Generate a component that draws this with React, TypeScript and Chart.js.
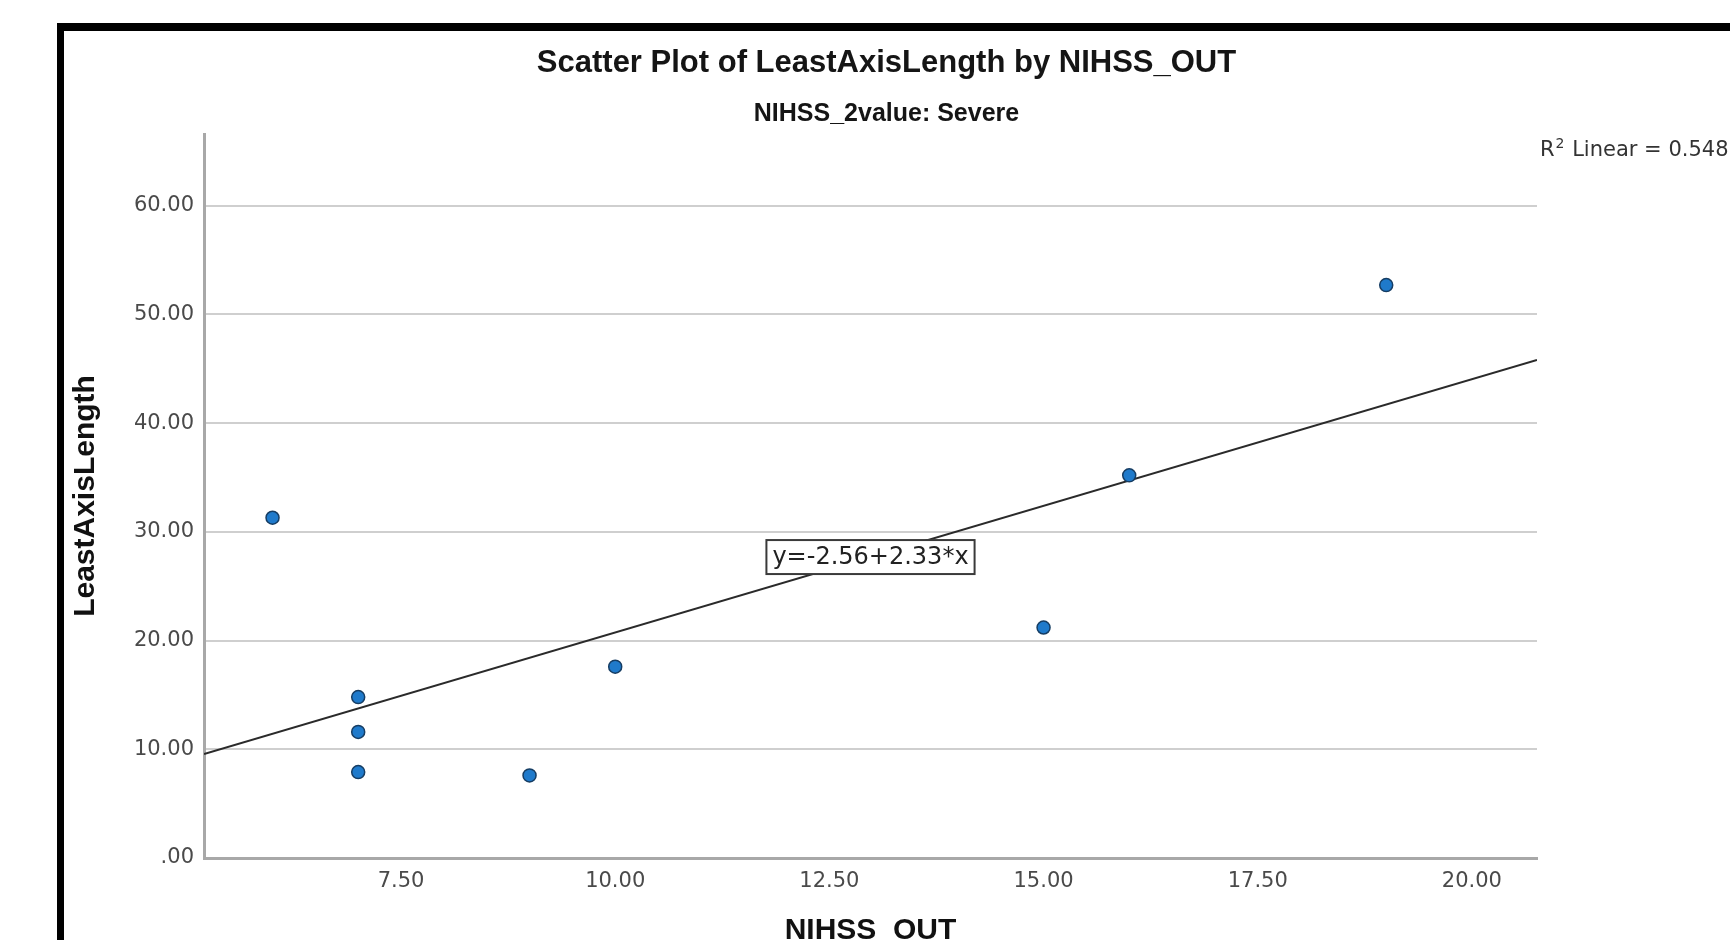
import React, { useEffect, useRef } from "react";
import { Chart, registerables } from "chart.js";

Chart.register(...registerables);

// ---- data ----
const NIHSS_OUT = [6, 7, 7, 7, 9, 10, 15, 16, 19];
const LEAST_AXIS_LENGTH = [31.3, 14.8, 11.6, 7.9, 7.6, 17.6, 21.2, 35.2, 52.7];
const X_TICKS = [7.5, 10, 12.5, 15, 17.5, 20];
const Y_TICKS = [0, 10, 20, 30, 40, 50, 60];
const X_RANGE = [5.2, 20.76];
const Y_RANGE = [0, 66.6];
const FIT_INTERCEPT = -2.56;
const FIT_SLOPE = 2.33;
const R_SQUARED = 0.548;
const TITLE = "Scatter Plot of LeastAxisLength by NIHSS_OUT";
const SUBTITLE = "NIHSS_2value: Severe";
const X_TITLE = "NIHSS_OUT";
const Y_TITLE = "LeastAxisLength";

const fmtTick = (v: number) => (v === 0 ? ".00" : v.toFixed(2));

const spssTextPlugin = {
  id: "spssText",
  afterDraw(chart: any) {
    const { ctx, chartArea, scales } = chart;
    const cx = (chartArea.left + chartArea.right) / 2;
    ctx.save();
    ctx.fillStyle = "#151515";
    ctx.textAlign = "center";
    ctx.textBaseline = "middle";
    ctx.font = "bold 31px 'Liberation Sans', Arial, sans-serif";
    ctx.fillText(TITLE, cx + 16, chartArea.top - 71);
    ctx.font = "bold 25px 'Liberation Sans', Arial, sans-serif";
    ctx.fillText(SUBTITLE, cx + 16, chartArea.top - 20);

    // R² annotation with a raised, smaller "2"
    ctx.textAlign = "left";
    ctx.fillStyle = "#333333";
    const rx = chartArea.right + 3;
    const ry = chartArea.top + 17;
    ctx.font = "21px 'DejaVu Sans', sans-serif";
    ctx.fillText("R", rx, ry);
    const rW = ctx.measureText("R").width;
    ctx.font = "14px 'DejaVu Sans', sans-serif";
    ctx.fillText("2", rx + rW + 1, ry - 7);
    const sW = ctx.measureText("2").width;
    ctx.font = "21px 'DejaVu Sans', sans-serif";
    ctx.fillText(` Linear = ${R_SQUARED.toFixed(3)}`, rx + rW + sW + 2, ry);

    // equation label box on the fit line
    const midX = (X_RANGE[0] + X_RANGE[1]) / 2;
    const px = scales.x.getPixelForValue(midX);
    const py = scales.y.getPixelForValue(FIT_INTERCEPT + FIT_SLOPE * midX);
    const label = `y=${FIT_INTERCEPT.toFixed(2)}+${FIT_SLOPE.toFixed(2)}*x`;
    ctx.font = "24px 'DejaVu Sans', sans-serif";
    const w = ctx.measureText(label).width + 12;
    const h = 34;
    ctx.fillStyle = "#ffffff";
    ctx.fillRect(px - w / 2, py - h / 2, w, h);
    ctx.strokeStyle = "#3a3a3a";
    ctx.lineWidth = 2;
    ctx.strokeRect(px - w / 2, py - h / 2, w, h);
    ctx.fillStyle = "#222222";
    ctx.textAlign = "center";
    ctx.fillText(label, px, py + 1);
    ctx.restore();
  },
};

export default function App() {
  const canvasRef = useRef<HTMLCanvasElement | null>(null);

  useEffect(() => {
    if (!canvasRef.current) return;
    const points = NIHSS_OUT.map((x, i) => ({ x, y: LEAST_AXIS_LENGTH[i] }));
    const fit = X_RANGE.map((x) => ({ x, y: FIT_INTERCEPT + FIT_SLOPE * x }));
    const tickFont = { family: "'DejaVu Sans', sans-serif", size: 21 };
    const titleFont = { family: "'Liberation Sans', Arial, sans-serif", size: 30, weight: "bold" as const };

    const chart = new Chart(canvasRef.current, {
      type: "scatter",
      data: {
        datasets: [
          {
            type: "scatter",
            label: "LeastAxisLength",
            data: points,
            backgroundColor: "#1f7acb",
            borderColor: "#163d63",
            borderWidth: 1.5,
            pointRadius: 6.5,
            order: 0,
          },
          {
            type: "line",
            label: "Fit",
            data: fit,
            borderColor: "#2a2a2a",
            borderWidth: 2,
            pointRadius: 0,
            showLine: true,
            fill: false,
            order: 1,
          } as any,
        ],
      },
      options: {
        animation: false,
        responsive: false,
        maintainAspectRatio: false,
        devicePixelRatio: 1,
        layout: { padding: { left: 0, top: 103, right: 193, bottom: 0 } },
        plugins: {
          legend: { display: false },
          tooltip: { enabled: false },
          title: { display: false },
        },
        scales: {
          x: {
            type: "linear",
            min: X_RANGE[0],
            max: X_RANGE[1],
            afterBuildTicks: (s: any) => {
              s.ticks = X_TICKS.map((value) => ({ value }));
            },
            afterFit: (s: any) => {
              s.height = 91;
            },
            grid: { display: false, drawTicks: false },
            border: { display: true, color: "#a8a8a8", width: 3 },
            ticks: {
              font: tickFont,
              color: "#4a4a4a",
              padding: 11,
              maxRotation: 0,
              autoSkip: false,
              callback: (v: any) => fmtTick(Number(v)),
            },
            title: {
              display: true,
              text: X_TITLE,
              font: titleFont,
              color: "#111111",
              padding: { top: 0, bottom: 0 },
            },
          },
          y: {
            type: "linear",
            min: Y_RANGE[0],
            max: Y_RANGE[1],
            afterBuildTicks: (s: any) => {
              s.ticks = Y_TICKS.map((value) => ({ value }));
            },
            afterFit: (s: any) => {
              s.width = 140;
            },
            grid: { display: true, drawTicks: false, color: "#cfcfcf", lineWidth: 2 },
            border: { display: true, color: "#a8a8a8", width: 3 },
            ticks: {
              font: tickFont,
              color: "#4a4a4a",
              padding: 10,
              autoSkip: false,
              callback: (v: any) => fmtTick(Number(v)),
            },
            title: {
              display: true,
              text: Y_TITLE,
              font: titleFont,
              color: "#111111",
              padding: { top: 4, bottom: 0 },
            },
          },
        },
      },
      plugins: [spssTextPlugin],
    });
    return () => chart.destroy();
  }, []);

  return (
    <div
      style={{
        position: "absolute",
        left: 0,
        top: 0,
        width: 1730,
        height: 940,
        overflow: "hidden",
        background: "#ffffff",
      }}
    >
      <div
        style={{
          position: "absolute",
          left: 57,
          top: 23,
          width: 1730,
          height: 1000,
          borderLeft: "7px solid #000",
          borderTop: "8px solid #000",
        }}
      />
      <canvas
        ref={canvasRef}
        width={1666}
        height={918}
        style={{ position: "absolute", left: 64, top: 31, width: 1666, height: 918 }}
      />
    </div>
  );
}
